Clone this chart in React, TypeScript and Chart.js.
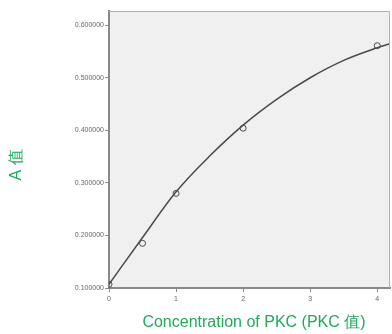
import React, { useEffect, useRef } from "react";
import { Chart, registerables } from "chart.js";

Chart.register(...registerables);

const measuredX = [0, 0.5, 1, 2, 4];
const measuredA = [0.107, 0.185, 0.28, 0.404, 0.561];
const curveX = [0, 0.5, 1, 1.5, 2, 2.5, 3, 3.5, 4, 4.19];
const curveA = [0.107, 0.196, 0.283, 0.351, 0.41, 0.459, 0.5, 0.533, 0.557, 0.565];
const xTicks = [0, 1, 2, 3, 4];
const yTicks = [0.1, 0.2, 0.3, 0.4, 0.5, 0.6];
const xTitle = "Concentration of PKC (PKC 值)";
const yTitle = "A 值";

const GREEN = "#1fab5a";
const AXIS = "#8a8a8a";
const FONT = "Liberation Sans, Arial, sans-serif";

const plotBg = {
  id: "plotBg",
  beforeDraw(chart: any) {
    const { ctx, chartArea: a } = chart;
    ctx.save();
    ctx.fillStyle = "#f0f0f0";
    ctx.fillRect(a.left, a.top, a.right - a.left, a.bottom - a.top);
    ctx.restore();
  },
  afterDatasetsDraw(chart: any) {
    const { ctx, chartArea: a } = chart;
    ctx.save();
    ctx.strokeStyle = "#b0b0b0";
    ctx.lineWidth = 1;
    ctx.beginPath();
    ctx.moveTo(a.left, a.top + 0.5);
    ctx.lineTo(a.right - 0.5, a.top + 0.5);
    ctx.lineTo(a.right - 0.5, a.bottom);
    ctx.stroke();
    ctx.restore();
  },
  afterDraw(chart: any) {
    const { ctx, chartArea: a } = chart;
    ctx.save();
    ctx.fillStyle = GREEN;
    ctx.font = `16px ${FONT}`;
    ctx.textAlign = "center";
    ctx.textBaseline = "middle";
    ctx.fillText(xTitle, 254, 323);
    ctx.translate(17, a.top + 154);
    ctx.rotate(-Math.PI / 2);
    ctx.fillText(yTitle, 0, 0);
    ctx.restore();
  },
};

export default function App() {
  const ref = useRef<HTMLCanvasElement>(null);
  useEffect(() => {
    if (!ref.current) return;
    const chart = new Chart(ref.current, {
      type: "scatter",
      data: {
        datasets: [
          {
            type: "line",
            data: curveX.map((x, i) => ({ x, y: curveA[i] })),
            borderColor: "#4a4a4a",
            borderWidth: 1.5,
            pointRadius: 0,
            cubicInterpolationMode: "monotone",
            fill: false,
          } as any,
          {
            data: measuredX.map((x, i) => ({ x, y: measuredA[i] })),
            borderColor: "#4a4a4a",
            backgroundColor: "rgba(0,0,0,0)",
            borderWidth: 1,
            pointRadius: 3,
          },
        ],
      },
      options: {
        responsive: false,
        animation: false,
        events: [],
        layout: { padding: { left: 40, top: 11, right: 0, bottom: 0 } },
        plugins: { legend: { display: false }, tooltip: { enabled: false } },
        scales: {
          x: {
            type: "linear",
            min: 0,
            max: 4.19,
            afterBuildTicks: (s: any) => {
              s.ticks = xTicks.map((v) => ({ value: v }));
            },
            afterFit: (s: any) => {
              s.height = 46;
            },
            ticks: {
              color: "#666",
              font: { size: 7, family: FONT },
              padding: 3,
              maxRotation: 0,
              callback: (v: any) => String(v),
            },
            grid: { drawOnChartArea: false, tickLength: 4, color: AXIS, lineWidth: 1 },
            border: { color: AXIS, width: 2 },
          },
          y: {
            type: "linear",
            min: 0.1,
            max: 0.627,
            afterBuildTicks: (s: any) => {
              s.ticks = yTicks.map((v) => ({ value: v }));
            },
            afterFit: (s: any) => {
              s.width = 69;
            },
            ticks: {
              color: "#666",
              font: { size: 7, family: FONT },
              padding: 1,
              callback: (v: any) => Number(v).toFixed(6),
            },
            grid: { drawOnChartArea: false, tickLength: 4, color: AXIS, lineWidth: 1 },
            border: { color: AXIS, width: 2 },
          },
        },
      },
      plugins: [plotBg],
    });
    return () => chart.destroy();
  }, []);
  return (
    <div style={{ position: "absolute", left: 0, top: 0, width: 392, height: 334, overflow: "hidden", background: "#fff" }}>
      <canvas ref={ref} width={395} height={334} style={{ display: "block" }} />
    </div>
  );
}
